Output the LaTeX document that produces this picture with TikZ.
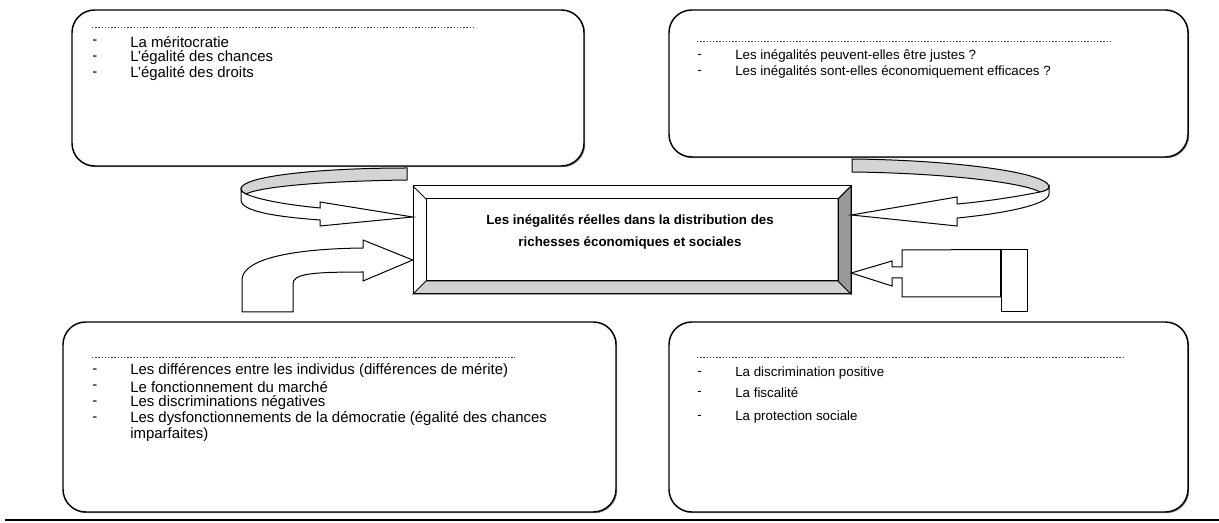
\documentclass[tikz,border=0pt]{standalone}
\usepackage{fontspec}
\setmainfont{Liberation Sans}
\usetikzlibrary{fit,shadows}
\definecolor{baseline}{RGB}{110,128,146}
\begin{document}
\begin{tikzpicture}[x=0.75pt,y=-0.75pt,
  panel/.style={draw=black, line width=1.1pt, rounded corners=17pt, inner sep=0pt, fill=white,
    drop shadow={shadow xshift=0.9pt, shadow yshift=-0.9pt, opacity=0.45, fill=black}},
  item/.style={anchor=west, inner sep=0pt},
  itemA/.style={item, font=\fontsize{11.2}{12}\selectfont},
  itemB/.style={item, font=\fontsize{11.2}{12}\selectfont},
  itemC/.style={item, font=\fontsize{10}{12}\selectfont},
  dots/.style={draw=black!75, line width=0.45pt, dash pattern=on 1pt off 1.4pt},
  blockarrow/.style={draw=black, line width=0.75pt, fill=white, line join=miter},
  band/.style={draw=black, line width=0.75pt, fill=black!17},
  bevel/.style={draw=black, line width=0.75pt}
]
\useasboundingbox (0,0) rectangle (1219,523);

% panels
\node[panel, fit={(72,10) (584,166)}] (TL) {};
\node[panel, fit={(669,10) (1188,157)}] (TR) {};
\node[panel, fit={(63,322) (616,512)}] (BL) {};
\node[panel, fit={(669,322) (1188,512)}] (BR) {};

% top-left panel text
\draw[dots] (92,27) -- (475,27);
\node[itemA] (tl1d) at (92,42) {-};
\node[itemA] (tl1) at (130,42) {La méritocratie};
\node[itemA] (tl2d) at (92,58) {-};
\node[itemA] (tl2) at (130,58) {L’égalité des chances};
\node[itemA] (tl3d) at (92,74) {-};
\node[itemA] (tl3) at (130,74) {L’égalité des droits};

% top-right panel text
\draw[dots] (697,41) -- (1110,41);
\node[itemC] (tr1d) at (697,56) {-};
\node[itemC] (tr1) at (735,56) {Les inégalités peuvent-elles être justes ?};
\node[itemC] (tr2d) at (697,72) {-};
\node[itemC] (tr2) at (735,72) {Les inégalités sont-elles économiquement efficaces ?};

% bottom-left panel text
\draw[dots] (92,357) -- (515,357);
\node[itemB] (bl1d) at (92,371) {-};
\node[itemB] (bl1) at (130,371) {Les différences entre les individus (différences de mérite)};
\node[itemB] (bl2d) at (92,387) {-};
\node[itemB] (bl2) at (130,387) {Le fonctionnement du marché};
\node[itemB] (bl3d) at (92,403) {-};
\node[itemB] (bl3) at (130,403) {Les discriminations négatives};
\node[itemB] (bl4d) at (92,419) {-};
\node[itemB] (bl4) at (130,419) {Les dysfonctionnements de la démocratie (égalité des chances};
\node[itemB] (bl5) at (130,435) {imparfaites)};

% bottom-right panel text
\draw[dots] (697,357) -- (1123,357);
\node[itemC] (br1d) at (697,373) {-};
\node[itemC] (br1) at (735,373) {La discrimination positive};
\node[itemC] (br2d) at (697,393) {-};
\node[itemC] (br2) at (735,393) {La fiscalité};
\node[itemC] (br3d) at (697,417) {-};
\node[itemC] (br3) at (735,417) {La protection sociale};

% central bevelled box
\node[inner sep=0pt, fit={(413,186) (851,294)}] (C) {};
\fill[white] (413,186) rectangle (851,294);
\filldraw[bevel, fill=black!18] (413,294) -- (851,294) -- (838,281) -- (426,281) -- cycle;
\filldraw[bevel, fill=black!40] (851,186) -- (851,294) -- (838,281) -- (838,199) -- cycle;
\draw[bevel] (413,186) rectangle (851,294);
\draw[bevel] (426,199) rectangle (838,281);
\draw[bevel] (413,186) -- (426,199) (851,186) -- (838,199);
\node[align=center, font=\bfseries\fontsize{10}{16.5}\selectfont, inner sep=0pt] (title) at (630,232)
  {Les inégalités réelles dans la distribution des\\richesses économiques et sociales};

% top-left ribbon arrow
\coordinate (tipTL) at (C.west |- 0,217);
\filldraw[band] (407,168) -- (407,180) .. controls (330,181) and (262,186) .. (246,194)
  .. controls (242,192) and (241,191) .. (241,189) .. controls (241,176) and (320,168) .. cycle;
\filldraw[blockarrow] (241,189) .. controls (241,191) and (243,193) .. (246,194)
  .. controls (265,202) and (300,206) .. (320,208) -- (320,202) -- (tipTL) -- (320,226) -- (320,220)
  .. controls (280,217) and (241,212) .. (241,200) -- cycle;

% bottom-left bent arrow
\coordinate (tipBL) at (C.west |- 0,260);
\filldraw[blockarrow] (242,312) -- (242,280) .. controls (242,262) and (280,249) .. (363,248)
  -- (363,240) -- (tipBL) -- (363,281) -- (363,272) .. controls (310,272) and (293,274) .. (293,284)
  -- (293,312) -- cycle;

% top-right ribbon arrow
\coordinate (tipTR) at (C.east |- 0,215);
\filldraw[band] (852,159) -- (852,172) .. controls (940,173) and (1022,182) .. (1040,192)
  .. controls (1046,191) and (1049,189) .. (1049,187) .. controls (1049,172) and (950,160) .. cycle;
\filldraw[blockarrow] (1049,187) .. controls (1049,189) and (1046,191) .. (1040,192)
  .. controls (1010,198) and (980,202) .. (957,204) -- (957,197) -- (tipTR) -- (957,226) -- (957,218)
  .. controls (1000,214) and (1049,205) .. (1049,194) -- cycle;

% right callout arrow
\coordinate (tipR) at (C.east |- 0,273);
\node[draw=black, line width=0.75pt, inner sep=0pt, fit={(1001,250) (1027,312)}] (stub) {};
\filldraw[blockarrow] (tipR) -- (892,261) -- (892,267) -- (902,267) -- (902,250) -- (stub.north west)
  -- (stub.west |- 0,297) -- (902,297) -- (902,278) -- (892,278) -- (892,286) -- cycle;

% bottom rule
\draw[baseline, line width=1.6pt] (5,520) -- (1219,520);
\end{tikzpicture}
\end{document}
